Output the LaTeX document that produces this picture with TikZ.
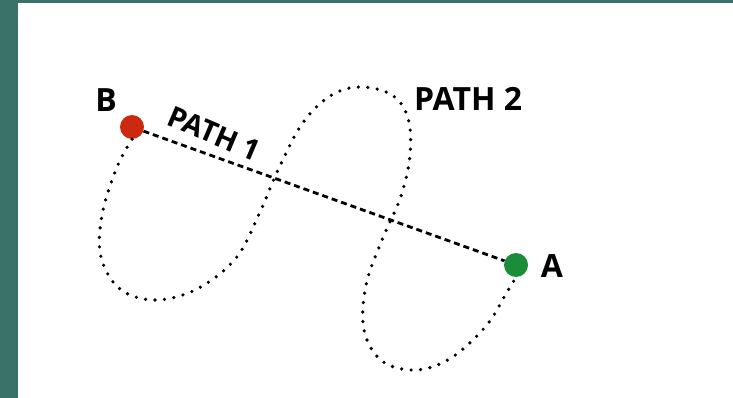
\documentclass[tikz,border=0pt]{standalone}
\usepackage{fontspec}
\setmainfont{Open Sans}
\definecolor{frame}{RGB}{59,114,104}
\definecolor{redpt}{RGB}{204,42,16}
\definecolor{greenpt}{RGB}{26,140,58}
\begin{document}
\begin{tikzpicture}[x=1pt,y=-1pt,
  endpoint/.style={circle,inner sep=0pt,minimum size=24pt},
  lbl/.style={font=\fontsize{32}{32}\selectfont\bfseries,inner sep=0pt},
  straightroute/.style={line width=2.8pt,dash pattern=on 6pt off 4pt},
  looproute/.style={line width=3.6pt,line cap=round,dash pattern=on 0pt off 9.5pt}]
  \useasboundingbox (0,0) rectangle (733,398);
  \fill[white] (0,0) rectangle (733,398);
  \fill[frame] (0,0) rectangle (18,398);
  \fill[frame] (0,0) rectangle (733,3);

  % end points
  \node[endpoint,fill=redpt] (B) at (132,127) {};
  \node[endpoint,fill=greenpt] (A) at (516,265) {};
  \node[lbl,anchor=base] (Blbl) at (106,112) {B};
  \node[lbl,anchor=base] (Albl) at (552,277) {A};

  % path 1: straight dashed route
  \draw[straightroute] (B) -- (A);
  \node[lbl,font=\fontsize{29}{29}\selectfont\bfseries,rotate=-23,anchor=base west] (p1) at (165,124) {PATH 1};

  % path 2: dotted figure-eight route
  \coordinate (q1) at (117,167);
  \coordinate (q2) at (102,215);
  \coordinate (q3) at (101,257);
  \coordinate (q4) at (120,289);
  \coordinate (q5) at (155,300);
  \coordinate (q6) at (197,289);
  \coordinate (q7) at (236,258);
  \coordinate (q8) at (260,212);
  \coordinate (q9) at (278,170);
  \coordinate (q10) at (302,124);
  \coordinate (q11) at (330,96);
  \coordinate (q12) at (360,87);
  \coordinate (q13) at (392,95);
  \coordinate (q14) at (408,118);
  \coordinate (q15) at (410,155);
  \coordinate (q16) at (401,196);
  \coordinate (q17) at (382,240);
  \coordinate (q18) at (366,285);
  \coordinate (q19) at (364,330);
  \coordinate (q20) at (382,361);
  \coordinate (q21) at (416,370);
  \coordinate (q22) at (451,358);
  \coordinate (q23) at (486,326);
  \coordinate (q24) at (507,292);
  \draw[looproute] plot[smooth,tension=0.6] coordinates
    {(B.south) (q1) (q2) (q3) (q4) (q5) (q6) (q7) (q8) (q9) (q10) (q11) (q12)
     (q13) (q14) (q15) (q16) (q17) (q18) (q19) (q20) (q21) (q22) (q23) (q24) (A.south)};
  \node[lbl,anchor=base west] (p2) at (414,111) {PATH 2};
\end{tikzpicture}
\end{document}
